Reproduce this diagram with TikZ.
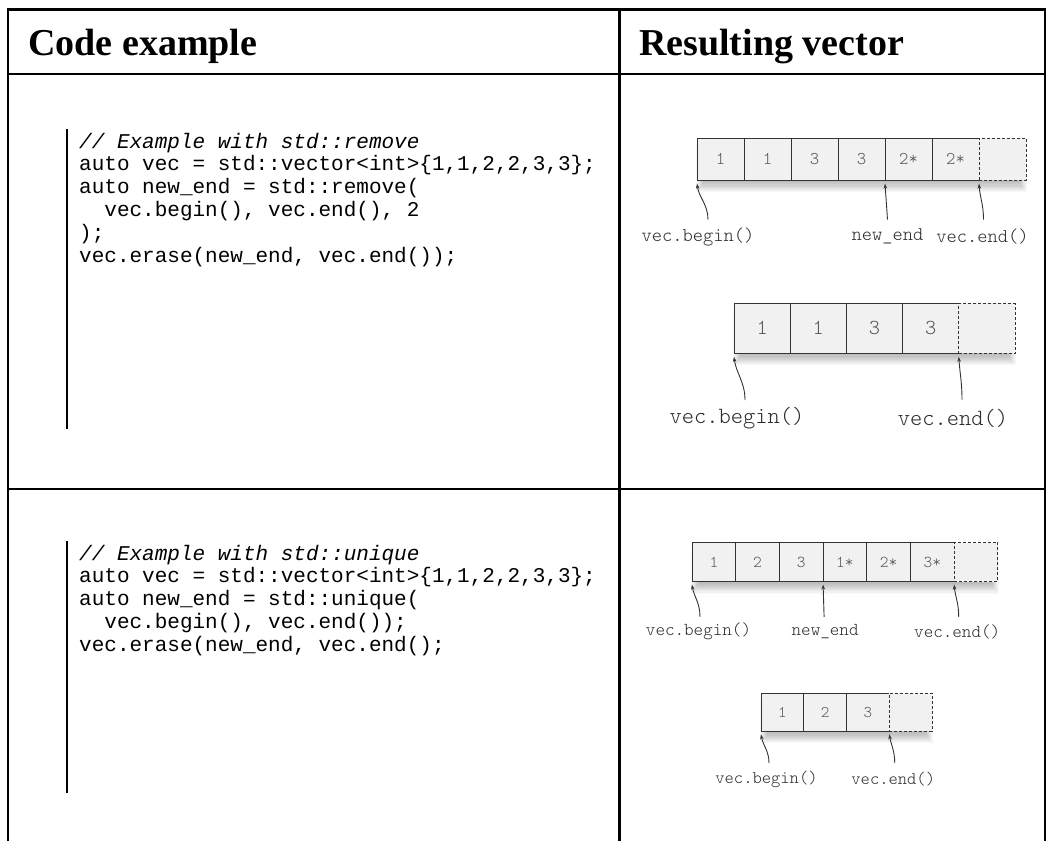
\documentclass[tikz,border=0pt]{standalone}
\usepackage{fontspec}
\usetikzlibrary{calc,arrows.meta}
\newfontfamily\hdrfont{Liberation Serif}
\newfontfamily\codefont{Liberation Mono}
\newfontfamily\lblfont{lmmonolt10-regular.otf}
\definecolor{cellgray}{HTML}{F1F1F1}
\definecolor{numgray}{HTML}{555555}
\definecolor{lblgray}{HTML}{2A2A2A}
\definecolor{edgegray}{HTML}{333333}
\tikzset{
  rule/.style={line width=2.4pt, black},
  codebar/.style={line width=2.4pt, black},
  hdr/.style={anchor=base west, inner sep=0pt, font=\hdrfont\bfseries\fontsize{38}{40}\selectfont},
  code/.style={anchor=base west, inner sep=0pt, font=\codefont\fontsize{21}{23}\selectfont},
  cmt/.style={anchor=base west, inner sep=0pt, font=\codefont\itshape\fontsize{21}{23}\selectfont},
  cellbox/.style={draw=edgegray, line width=1pt, fill=cellgray, inner sep=0pt, outer sep=0pt, text=numgray},
  ghostbox/.style={draw=edgegray, dash pattern=on 3pt off 2pt, line width=1pt, fill=cellgray, inner sep=0pt, outer sep=0pt},
  ptr/.style={draw=edgegray, line width=0.9pt, -{Stealth[length=5pt,width=3.6pt]}},
  lbl/.style={inner sep=0pt, text=lblgray, font=\lblfont\fontsize{#1}{#1}\selectfont},
}
% #1 prefix, #2 x0, #3 y top, #4 cell width, #5 number of values, #6 values
\newcommand\vecrow[6]{%
  \pgfmathsetmacro\cellh{0.89*#4}%
  \pgfmathsetmacro\numfs{0.38*#4}%
  \foreach \k in {1,...,10}{%
    \fill[black, opacity=0.028] ({#2+8-0.9*\k}, {#3+6}) rectangle ({#2+(#5+1)*#4-8+0.9*\k}, {#3+\cellh+1+1.1*\k});
  }%
  \foreach \v [count=\i] in {#6}{%
    \node[cellbox, minimum width=#4pt, minimum height=\cellh pt, font=\lblfont\fontsize{\numfs}{\numfs}\selectfont] (#1c\i) at ({#2+(\i-0.5)*#4}, {#3+\cellh/2}) {\v};
  }%
  \fill[cellgray] ($(#1c#5.north east)+(-0.6,0.6)$) rectangle ($(#1c#5.south east)+(0.6,-0.6)$);
  \node[ghostbox, minimum width=#4pt, minimum height=\cellh pt] (#1x) at ({#2+(#5+0.5)*#4}, {#3+\cellh/2}) {};
}
\begin{document}
\begin{tikzpicture}[x=1pt, y=-1pt]
\useasboundingbox (0,0) rectangle (1051,841);
\fill[white] (0,0) rectangle (1051,841);

% table rules
\draw[rule] (8,841) -- (8,9.5) -- (1045,9.5) -- (1045,841);
\draw[rule] (8,74) -- (1045,74);
\draw[rule] (8,489) -- (1045,489);
\draw[rule] (619.5,9.5) -- (619.5,841);

% headers
\node[hdr] (h1) at (28,55) {Code example};
\node[hdr] (h2) at (639,55) {Resulting vector};

% code block 1
\draw[codebar] (66.7,129) -- (66.7,429);
\node[cmt]  (a1) at (79,148) {// Example with std::remove};
\node[code] (a2) at (79,170.8) {auto vec = std::vector<int>\{1,1,2,2,3,3\};};
\node[code] (a3) at (79,193.6) {auto new\_end = std::remove(};
\node[code] (a4) at (104.2,216.4) {vec.begin(), vec.end(), 2};
\node[code] (a5) at (79,239.2) {);};
\node[code] (a6) at (79,262) {vec.erase(new\_end, vec.end());};

% code block 2
\draw[codebar] (66.7,541) -- (66.7,793);
\node[cmt]  (b1) at (79,560) {// Example with std::unique};
\node[code] (b2) at (79,582.8) {auto vec = std::vector<int>\{1,1,2,2,3,3\};};
\node[code] (b3) at (79,605.6) {auto new\_end = std::unique(};
\node[code] (b4) at (104.2,628.4) {vec.begin(), vec.end());};
\node[code] (b5) at (79,651.2) {vec.erase(new\_end, vec.end();};

% diagram 1
\vecrow{d1}{697}{138.3}{47}{6}{1,1,3,3,2*,2*}
\node[lbl=19.5] (d1b) at ($(d1c1.south west)+(1,56.5)$) {vec.begin()};
\node[lbl=19.5] (d1n) at ($(d1c5.south west)+(2.5,56.5)$) {new\_end};
\node[lbl=19.5] (d1v) at ($(d1x.south west)+(3.5,56.5)$) {vec.end()};
\draw[ptr] ($(d1b.center)+(10,-17)$) .. controls +(0,-15) and +(2,14) .. ($(d1c1.south west)+(0,3.5)$);
\draw[ptr] ($(d1n.center)+(0,-17)$) -- ($(d1c5.south west)+(0,3.5)$);
\draw[ptr] ($(d1v.center)+(1,-17)$) .. controls +(0,-15) and +(1,14) .. ($(d1x.south west)+(0,3.5)$);

% diagram 2
\vecrow{d2}{734}{303.3}{56.2}{4}{1,1,3,3}
\node[lbl=23.3] (d2b) at ($(d2c1.south west)+(3,64.7)$) {vec.begin()};
\node[lbl=23.3] (d2v) at ($(d2x.south west)+(-5.8,64.7)$) {vec.end()};
\draw[ptr] ($(d2b.center)+(8,-18)$) .. controls +(0,-18) and +(2,16) .. ($(d2c1.south west)+(0,3.5)$);
\draw[ptr] ($(d2v.center)+(9,-18)$) .. controls +(0,-18) and +(1,16) .. ($(d2x.south west)+(0,3.5)$);

% diagram 3
\vecrow{d3}{692}{542.7}{43.7}{6}{1,2,3,1*,2*,3*}
\node[lbl=18.2] (d3b) at ($(d3c1.south west)+(6.5,50)$) {vec.begin()};
\node[lbl=18.2] (d3n) at ($(d3c4.south west)+(2,50)$) {new\_end};
\node[lbl=18.2] (d3v) at ($(d3x.south west)+(3,50)$) {vec.end()};
\draw[ptr] ($(d3b.center)+(1.5,-14.7)$) .. controls +(0,-14) and +(2,12) .. ($(d3c1.south west)+(0,3)$);
\draw[ptr] ($(d3n.center)+(-1,-14.7)$) -- ($(d3c4.south west)+(0,3)$);
\draw[ptr] ($(d3v.center)+(1.5,-14.7)$) .. controls +(0,-14) and +(1,12) .. ($(d3x.south west)+(0,3)$);

% diagram 4
\vecrow{d4}{761}{693.3}{42.75}{3}{1,2,3}
\node[lbl=17.7] (d4b) at ($(d4c1.south west)+(5.5,47.7)$) {vec.begin()};
\node[lbl=17.7] (d4v) at ($(d4x.south west)+(4,47.7)$) {vec.end()};
\draw[ptr] ($(d4b.center)+(2.5,-16)$) .. controls +(0,-12) and +(2,11) .. ($(d4c1.south west)+(0,3)$);
\draw[ptr] ($(d4v.center)+(1.5,-16)$) .. controls +(0,-12) and +(2,11) .. ($(d4x.south west)+(0,3)$);
\end{tikzpicture}
\end{document}
